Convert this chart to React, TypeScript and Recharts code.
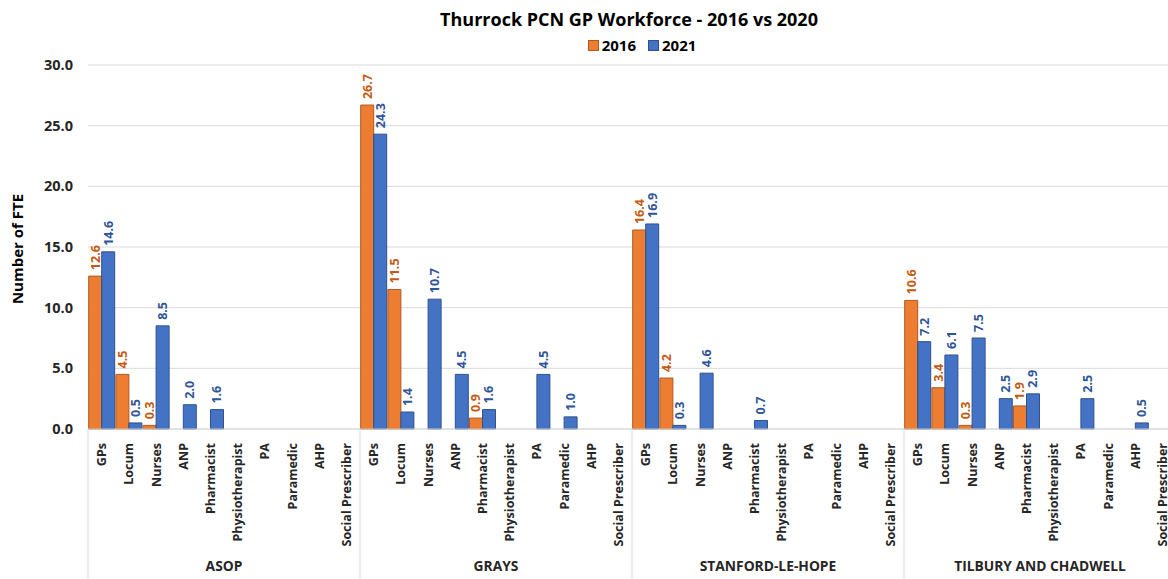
import { BarChart, Bar, XAxis, YAxis, CartesianGrid, LabelList } from "recharts";

const groups = ["ASOP", "GRAYS", "STANFORD-LE-HOPE", "TILBURY AND CHADWELL"];
const roles = ["GPs", "Locum", "Nurses", "ANP", "Pharmacist", "Physiotherapist", "PA", "Paramedic", "AHP", "Social Prescriber"];

// one row per group, in the order of roles (null = no bar)
const fte2016 = [
  [12.6, 4.5, 0.3, null, null, null, null, null, null, null],
  [26.7, 11.5, null, null, 0.9, null, null, null, null, null],
  [16.4, 4.2, null, null, null, null, null, null, null, null],
  [10.6, 3.4, 0.3, null, 1.9, null, null, null, null, null],
];
const fte2021 = [
  [14.6, 0.5, 8.5, 2.0, 1.6, null, null, null, null, null],
  [24.3, 1.4, 10.7, 4.5, 1.6, null, 4.5, 1.0, null, null],
  [16.9, 0.3, 4.6, null, 0.7, null, null, null, null, null],
  [7.2, 6.1, 7.5, 2.5, 2.9, null, 2.5, null, 0.5, null],
];
const yTicks = [0, 5, 10, 15, 20, 25, 30];

const data = groups.flatMap((g, gi) =>
  roles.map((r, ri) => ({ id: `${g}-${r}`, group: g, role: r, v2016: fte2016[gi][ri], v2021: fte2021[gi][ri] }))
);

const FONT = "'Open Sans', 'DejaVu Sans', sans-serif";
const ORANGE = "#ED7D31";
const BLUE = "#4472C4";

// chart frame
const W = 1180;
const H = 579;
const PLOT_LEFT = 88;
const PLOT_RIGHT = 1176;
const PLOT_BOTTOM = 429;
const BAND = (PLOT_RIGHT - PLOT_LEFT) / data.length;

const CategoryTick = ({ x, y, payload, index }: any) => {
  const role = data[index]?.role ?? payload.value;
  return (
    <g>
      <text
        x={x}
        y={y + 6}
        transform={`rotate(-90 ${x} ${y + 6})`}
        textAnchor="end"
        dominantBaseline="central"
        fontFamily={FONT}
        fontWeight={700}
        fontSize={12.5}
        fill="#262626"
      >
        {role}
      </text>
      {index % 10 === 0 && (
        <line x1={x - BAND / 2} x2={x - BAND / 2} y1={PLOT_BOTTOM} y2={H} stroke="#d9d9d9" strokeWidth={1} />
      )}
      {index === data.length - 1 && (
        <line x1={x + BAND / 2} x2={x + BAND / 2} y1={PLOT_BOTTOM} y2={H} stroke="#d9d9d9" strokeWidth={1} />
      )}
      {index % 10 === 4 && (
        <text
          x={x + BAND / 2}
          y={571}
          textAnchor="middle"
          fontFamily={FONT}
          fontWeight={700}
          fontSize={13.8}
          fill="#262626"
        >
          {data[index].group}
        </text>
      )}
    </g>
  );
};

const makeLabel = (color: string) => (props: any) => {
  const { x, y, width, value } = props;
  if (value === null || value === undefined) return null;
  const cx = x + width / 2;
  const cy = y - 6;
  return (
    <text
      x={cx}
      y={cy}
      transform={`rotate(-90 ${cx} ${cy})`}
      textAnchor="start"
      dominantBaseline="central"
      fontFamily={FONT}
      fontWeight={700}
      fontSize={12.5}
      fill={color}
    >
      {Number(value).toFixed(1)}
    </text>
  );
};

export default function App() {
  return (
    <div style={{ position: "absolute", left: 0, top: 0, width: 1168, height: H, overflow: "hidden", background: "#fff" }}>
      <div
        style={{
          position: "absolute",
          top: 7,
          left: 0,
          width: 2 * 629,
          textAlign: "center",
          fontFamily: FONT,
          fontWeight: 700,
          fontSize: 18,
          color: "#000",
          lineHeight: "24px",
        }}
      >
        Thurrock PCN GP Workforce - 2016 vs 2020
      </div>
      <div
        style={{
          position: "absolute",
          top: 35,
          left: 0,
          width: 2 * 642,
          display: "flex",
          justifyContent: "center",
          gap: 12,
          fontFamily: FONT,
          fontWeight: 700,
          fontSize: 15,
          color: "#000",
          lineHeight: "20px",
        }}
      >
        {[{ label: "2016", color: ORANGE, border: "#AE5A21" }, { label: "2021", color: BLUE, border: "#2F528F" }].map((item) => (
          <div key={item.label} style={{ display: "flex", alignItems: "center", gap: 3 }}>
            <div style={{ width: 9, height: 9, background: item.color, border: `1px solid ${item.border}` }} />
            <span>{item.label}</span>
          </div>
        ))}
      </div>
      <div
        style={{
          position: "absolute",
          left: 17,
          top: 249,
          transform: "translate(-50%, -50%) rotate(-90deg)",
          fontFamily: FONT,
          fontWeight: 700,
          fontSize: 15,
          color: "#000",
          whiteSpace: "nowrap",
        }}
      >
        Number of FTE
      </div>
      <BarChart
        width={W}
        height={H}
        data={data}
        margin={{ top: 65, right: W - PLOT_RIGHT, left: 0, bottom: 0 }}
        barGap={0}
        barCategoryGap={0.7}
      >
        <CartesianGrid vertical={false} stroke="#d9d9d9" />
        <XAxis
          dataKey="id"
          interval={0}
          height={H - PLOT_BOTTOM}
          tickLine={false}
          axisLine={{ stroke: "#d9d9d9" }}
          tick={<CategoryTick />}
        />
        <YAxis
          width={PLOT_LEFT}
          domain={[0, 30]}
          ticks={yTicks}
          tickFormatter={(v: number) => v.toFixed(1)}
          axisLine={false}
          tickLine={false}
          tickMargin={9}
          tick={{ fontFamily: FONT, fontWeight: 700, fontSize: 14.5, fill: "#262626" }}
        />
        <Bar dataKey="v2016" name="2016" fill={ORANGE} stroke="#AE5A21" strokeWidth={1} isAnimationActive={false}>
          <LabelList dataKey="v2016" content={makeLabel("#C55A11")} />
        </Bar>
        <Bar dataKey="v2021" name="2021" fill={BLUE} stroke="#2F528F" strokeWidth={1} isAnimationActive={false}>
          <LabelList dataKey="v2021" content={makeLabel("#2F5597")} />
        </Bar>
      </BarChart>
    </div>
  );
}
